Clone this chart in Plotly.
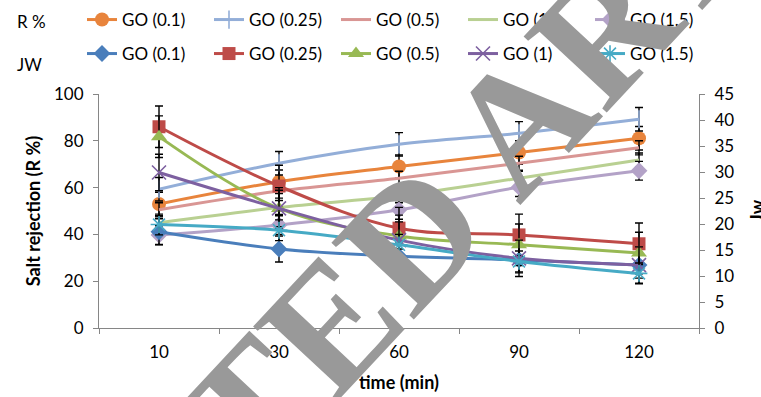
import plotly.graph_objects as go

# sampling times (min) shown as categories
times = ["10", "30", "60", "90", "120"]

# salt rejection R % per GO loading (left axis)
r_go01 = [53.0, 62.5, 69.0, 75.0, 81.1]
r_go025 = [59.3, 70.4, 78.5, 83.2, 89.2]
r_go05 = [50.5, 58.5, 64.0, 70.4, 77.0]
r_go1 = [45.0, 51.5, 56.5, 64.0, 71.8]
r_go15 = [39.7, 44.0, 50.5, 60.2, 67.2]
r_err = {"0.1": 5.0, "0.25": 5.0, "0.5": 3.0, "1": 3.0, "1.5": 4.0}

# water flux Jw per GO loading (right axis)
jw_go01 = [18.5, 15.2, 13.8, 13.1, 12.1]
jw_go025 = [38.7, 27.3, 19.2, 17.9, 16.2]
jw_go05 = [36.8, 23.0, 17.7, 16.0, 14.4]
jw_go1 = [29.9, 23.0, 16.9, 13.4, 12.1]
jw_go15 = [19.9, 18.8, 16.0, 12.8, 10.5]
jw_err = {"0.1": 2.5, "0.25": 4.0, "0.5": 4.0, "1": 3.5, "1.5": 2.0}

FONT = "Lato"
W, H = 761, 397
ML, MR, MT, MB = 99, 62, 94, 69
PW, PH = W - ML - MR, H - MT - MB


def px_x(x):
    return (x - ML) / PW


def px_y(y):
    return (H - MB - y) / PH


fig = go.Figure()


def add_series(y, err, name, color, symbol, size, axis, legend, mode="lines+markers", open_sym=False):
    marker = dict(symbol=symbol, size=size, color=color)
    if open_sym:
        marker["line"] = dict(color=color, width=1.6)
    fig.add_trace(go.Scatter(
        x=times, y=y, name=name, mode=mode,
        line=dict(color=color, width=3, shape="spline"),
        marker=marker,
        error_y=dict(type="constant", value=err, color="black", thickness=1.4, width=4),
        yaxis=axis, legend=legend,
    ))


add_series(r_go01, r_err["0.1"], "GO (0.1)", "#E8843C", "circle", 14, "y", "legend")
add_series(r_go025, r_err["0.25"], "GO (0.25)", "#93AED8", "line-ns-open", 13, "y", "legend", open_sym=True)
add_series(r_go05, r_err["0.5"], "GO (0.5)", "#D99694", "circle", 1, "y", "legend", mode="lines")
add_series(r_go1, r_err["1"], "GO (1)", "#B9D092", "circle", 1, "y", "legend", mode="lines")
add_series(r_go15, r_err["1.5"], "GO (1.5)", "#B3A2C7", "diamond", 13, "y", "legend")

add_series(jw_go01, jw_err["0.1"], "GO (0.1)", "#4A7EBB", "diamond", 13, "y2", "legend2")
add_series(jw_go025, jw_err["0.25"], "GO (0.25)", "#BE4B48", "square", 13, "y2", "legend2")
add_series(jw_go05, jw_err["0.5"], "GO (0.5)", "#98B954", "triangle-up", 14, "y2", "legend2")
add_series(jw_go1, jw_err["1"], "GO (1)", "#7D60A0", "x-thin-open", 14, "y2", "legend2", open_sym=True)
add_series(jw_go15, jw_err["1.5"], "GO (1.5)", "#46AAC5", "asterisk-open", 14, "y2", "legend2", open_sym=True)

axis_common = dict(
    showline=True, linecolor="#868686", linewidth=1,
    ticks="outside", tickcolor="#868686", ticklen=5,
    showgrid=False, zeroline=False,
    tickfont=dict(family=FONT, size=17, color="black"),
)

legend_common = dict(
    orientation="h", xref="paper", yref="paper",
    xanchor="left", yanchor="middle",
    font=dict(family=FONT, size=17, color="black"),
    entrywidth=82, entrywidthmode="pixels",
    bgcolor="rgba(0,0,0,0)", tracegroupgap=0,
)

fig.update_layout(
    width=W, height=H,
    margin=dict(l=ML, r=MR, t=MT, b=MB, autoexpand=False),
    paper_bgcolor="white", plot_bgcolor="white",
    font=dict(family=FONT, color="black"),
    xaxis=dict(
        **axis_common, type="category", tickson="boundaries",
        range=[-0.5, len(times) - 0.5], autorange=False,
        ticklabelstandoff=9,
        title=dict(text="<b>time (min)</b>", font=dict(family=FONT, size=18), standoff=14),
    ),
    yaxis=dict(
        **axis_common, range=[0, 100], dtick=20, autorange=False,
        ticklabelstandoff=6,
        title=dict(text="<b>Salt rejection (R %)</b>", font=dict(family=FONT, size=18), standoff=8),
    ),
    yaxis2=dict(
        **axis_common, range=[0, 45], dtick=5, autorange=False,
        overlaying="y", side="right", ticklabelstandoff=6,
    ),
    legend=dict(**legend_common, x=px_x(82), y=px_y(20)),
    legend2=dict(**legend_common, x=px_x(82), y=px_y(54)),
    annotations=[
        dict(text="R %", xref="paper", yref="paper", x=px_x(15), y=px_y(21),
             xanchor="left", yanchor="middle", showarrow=False,
             font=dict(family=FONT, size=17, color="black")),
        dict(text="JW", xref="paper", yref="paper", x=px_x(15), y=px_y(64),
             xanchor="left", yanchor="middle", showarrow=False,
             font=dict(family=FONT, size=17, color="black")),
        dict(text="<b>Jw</b>", xref="paper", yref="paper", x=px_x(757), y=px_y(211),
             xanchor="center", yanchor="middle", showarrow=False, textangle=-90,
             font=dict(family=FONT, size=18, color="black")),
        # diagonal retraction stamp over the chart
        dict(text="<b>RETRACTED ARTICLE</b>", xref="paper", yref="paper",
             x=px_x(362), y=px_y(290),
             xanchor="center", yanchor="middle", showarrow=False, textangle=-47,
             font=dict(family="Liberation Serif", size=172, color="#999999")),
    ],
)

fig.write_html("out.html")
